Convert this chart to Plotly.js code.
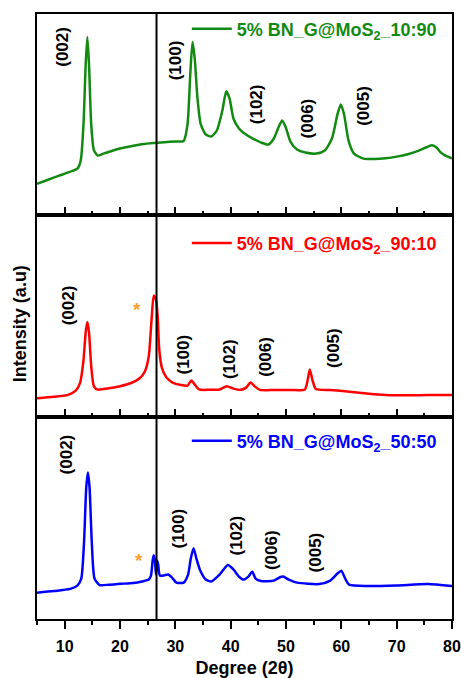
<!DOCTYPE html>
<html>
<head>
<meta charset="utf-8">
<script src="https://cdn.plot.ly/plotly-3.0.1.min.js"></script>
<style>html,body{margin:0;padding:0;background:#fff;}#chart{width:461px;height:678px;}</style>
</head>
<body>
<div id="chart"></div>
<script>
// ---- data (2θ in degrees, intensity in arbitrary units per panel) ----
var greenX = [5,7,9,11,12.3,12.9,13.4,13.8,14.1,14.4,14.8,15.3,16,17,18.5,20,22,24,26,28,30,31.5,32.2,32.7,33.1,33.5,34,34.6,35.5,36.5,37.5,38.5,39.2,39.8,40.5,41.5,42.5,44,45.5,46.8,47.8,48.7,49.3,49.9,50.8,52,53.5,55.5,57,58.3,59.3,59.9,60.5,61.3,62.3,64,66,68,70,72,74,75.5,76.4,77.2,78,79,80];
var greenY = [15.5,17.5,19.5,21.5,23,27,45,75,88.5,75,45,32,29.5,30.5,31.8,33,34.2,35.2,35.8,36.2,36.5,36.8,45,70,86,78,58,45,40,39,42,52,61.5,58,48,43,40.5,38,36,35,38,44,47,44,36.5,32.5,31,30.5,32,38,50,55,50,37,30.5,28,27.8,28.2,29,30.2,32,33.8,34.6,33.5,31,29.2,28.2];

var redX = [5,8,10.5,12,12.8,13.4,13.8,14.1,14.4,14.8,15.3,16,18,20,22,23.5,24.5,25.2,25.7,26.1,26.5,26.8,27.1,27.6,28.4,29.5,31,32.2,32.9,33.5,34.3,36,38,39.3,40.5,41.8,42.8,43.6,44.4,45.3,48,51,53.4,53.9,54.3,54.8,55.4,58,61.5,65,68,72,76,80];
var redY = [9.3,10,10.8,13,17,28,42,47,42,25,15,13.5,14.2,15.2,16.8,19,22.5,30,48,60,58,50,33,24,19.5,17,15.8,15.5,18,16,13.6,13.4,13.6,15.2,14,13.4,14.5,17,15,13.4,13.3,13.3,13.6,18,23.5,18,13.8,13.3,12.5,11.5,10.9,10.7,10.8,10.9];

var blueX = [5,8,11,12.3,13,13.5,13.9,14.2,14.5,14.9,15.4,16.3,18,20,22.4,24,25.2,25.6,25.9,26.1,26.3,26.5,26.7,26.9,27.2,28,28.7,29.4,30.2,31.5,32.3,32.8,33.3,33.8,34.5,35.5,36.5,38,39.5,40.5,41.5,42.3,43.2,43.9,44.5,45.5,47.8,49,49.5,50.5,52,56,58,59.3,60,60.7,61.4,64.7,70,75.6,80];
var blueY = [13,13.8,14.9,16.5,20,38,65,72.5,65,38,20,16.8,17,17.4,17.8,18.6,19.5,21.5,29,31.5,29,22,29,27,21.5,21.6,22,20.5,18,18,22,30,35,30,24,19.5,18.6,22,26.7,24.5,21,19.5,21,23.4,20,18.8,19,20.8,21,19.5,18,17.3,19,22.5,23.9,20,17,16.3,16.6,17.3,16.3];

var seriesNames = ['5% BN_G@MoS<sub>2</sub>_10:90', '5% BN_G@MoS<sub>2</sub>_90:10', '5% BN_G@MoS<sub>2</sub>_50:50'];
var peakLabels = ['(002)', '(100)', '(102)', '(006)', '(005)'];
var xTickVals = [10, 20, 30, 40, 50, 60, 70, 80];
var graphiteLine = 26.6;
var xTitle = 'Degree (2θ)';
var yTitle = 'Intensity (a.u)';

// ---- annotation placement (layout, not data) ----
var labelPos = [
  {xref:'x',  yref:'y',  xs:[9.7,30.0,44.8,53.9,64.1], ys:[83.7,77.1,55.2,47.8,54.3]},
  {xref:'x2', yref:'y2', xs:[10.7,31.5,39.9,46.3,58.7], ys:[55,30.7,28.7,29.5,34.2]},
  {xref:'x3', yref:'y3', xs:[10.3,30.6,41.1,47.5,55.4], ys:[81.6,44.6,41.2,34.2,32.9]}
];
var starPos = [{xref:'x2', yref:'y2', x:23.1, y:55.8}, {xref:'x3', yref:'y3', x:23.5, y:31.3}];

var FONT = 'Arial, "Liberation Sans", sans-serif';
var colors = ['#128a12', '#ff0000', '#0000ff'];

var traces = [
  {x: greenX, y: greenY, xaxis:'x',  yaxis:'y',  name: seriesNames[0], legend:'legend'},
  {x: redX,   y: redY,   xaxis:'x2', yaxis:'y2', name: seriesNames[1], legend:'legend2'},
  {x: blueX,  y: blueY,  xaxis:'x3', yaxis:'y3', name: seriesNames[2], legend:'legend3'}
].map(function(t, i){
  t.type = 'scatter'; t.mode = 'lines';
  t.line = {color: colors[i], width: 2.5, shape: 'spline', smoothing: 0.6};
  t.showlegend = true;
  return t;
});

var annotations = [];
labelPos.forEach(function(p){
  peakLabels.forEach(function(lbl, j){
    annotations.push({xref:p.xref, yref:p.yref, x:p.xs[j], y:p.ys[j], text:'<b>'+lbl+'</b>',
      textangle:-90, showarrow:false, font:{family:FONT, size:17, color:'#000'}});
  });
});
starPos.forEach(function(s){
  annotations.push({xref:s.xref, yref:s.yref, x:s.x, y:s.y, text:'<b>*</b>', showarrow:false,
    yshift:-5, font:{family:FONT, size:19, color:'#f5a030'}});
});
annotations.push({xref:'paper', yref:'paper', x:-0.041, y:0.489, xanchor:'center', yanchor:'middle',
  text:'<b>'+yTitle+'</b>', textangle:-90, showarrow:false, font:{family:FONT, size:18, color:'#000'}});

var baseY = {range:[0,100], showticklabels:false, ticks:'', showline:true, mirror:true,
  linewidth:2, linecolor:'#000', showgrid:false, zeroline:false, fixedrange:true};
function yax(dom){ return Object.assign({}, baseY, {domain: dom}); }
function xax(anchor, bottom){
  return {range:[5,80], anchor:anchor, showline:true, mirror:true, linewidth:2, linecolor:'#000',
    showgrid:false, zeroline:false, tickmode:'array', tickvals:xTickVals,
    ticks: bottom ? 'outside' : 'inside', ticklen: bottom ? 8 : 8, tickwidth:2, tickcolor:'#000',
    ticklabelstandoff: bottom ? 4 : 0,
    minor:{dtick:5, tick0:5, ticks: bottom ? 'outside' : 'inside', ticklen:4, tickwidth:2, tickcolor:'#000'},
    showticklabels: bottom, tickfont:{family:FONT, size:16, color:'#000', weight:'bold'}};
}

function legendAt(y, c){
  return {x:0.361, xanchor:'left', y:y, yanchor:'middle', bgcolor:'rgba(0,0,0,0)', borderwidth:0,
    itemwidth:40, font:{family:FONT, size:18, color:c, weight:'bold'}, tracegroupgap:0};
}

var layout = {
  width:461, height:678,
  margin:{l:37, r:9, t:14, b:59, pad:0},
  paper_bgcolor:'#fff', plot_bgcolor:'#fff',
  showlegend:true,
  xaxis: xax('y', false),
  xaxis2: Object.assign(xax('y2', false), {matches:'x'}),
  xaxis3: Object.assign(xax('y3', true), {matches:'x',
    title:{text:'<b>'+xTitle+'</b>', font:{family:FONT, size:18, color:'#000'}, standoff:10}}),
  yaxis:  yax([0.668, 1]),
  yaxis2: yax([0.334, 0.668]),
  yaxis3: yax([0, 0.334]),
  legend:  legendAt(0.975, colors[0]),
  legend2: legendAt(0.621, colors[1]),
  legend3: legendAt(0.294, colors[2]),
  shapes:[{type:'line', xref:'x', yref:'paper', x0:graphiteLine, x1:graphiteLine, y0:0, y1:1,
    line:{color:'#000', width:2}}],
  annotations: annotations
};

Plotly.newPlot('chart', traces, layout, {displayModeBar:false, staticPlot:true});
</script>
</body>
</html>
